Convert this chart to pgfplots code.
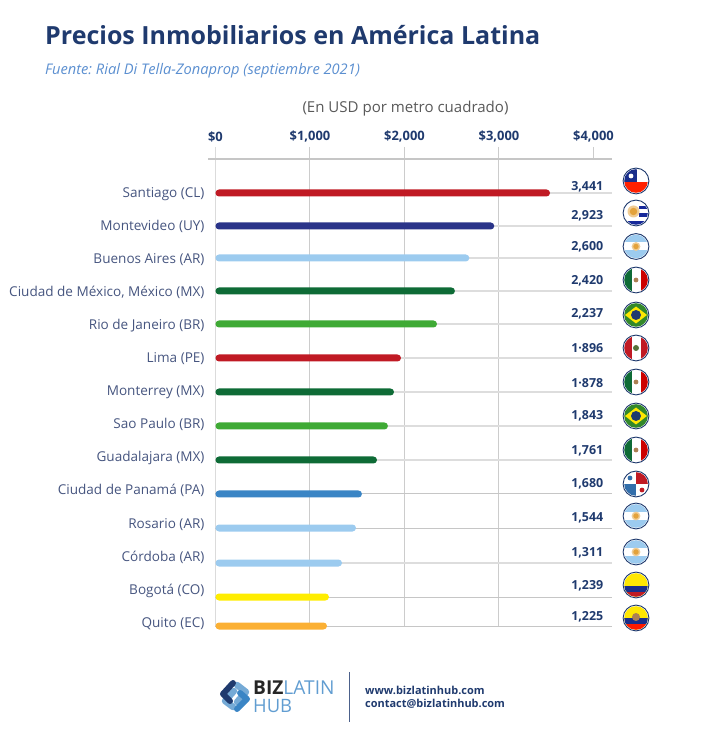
\documentclass[border=0pt]{standalone}
\usepackage{pgfplots}
\pgfplotsset{compat=1.18}
\usepackage{fontspec}
\setmainfont{Open Sans}
\definecolor{navy}{HTML}{1F3A6E}
\definecolor{city}{HTML}{46557F}
\definecolor{sub}{HTML}{5B8FD0}
\definecolor{cred}{HTML}{C01A24}
\definecolor{cnavy}{HTML}{2A3489}
\definecolor{clight}{HTML}{9CCBEF}
\definecolor{cdgreen}{HTML}{0E6B36}
\definecolor{cgreen}{HTML}{3FAA35}
\definecolor{cblue}{HTML}{3A85C5}
\definecolor{cyellow}{HTML}{FFED00}
\definecolor{corange}{HTML}{FBB034}
\definecolor{rowl}{HTML}{DDDDDD}
\definecolor{gridl}{HTML}{CCCCCC}
\definecolor{csun}{HTML}{E3A23C}
\newcommand{\flag}[3]{\begin{scope}[shift={(#1,#2)}]
 \fill[white] (0,0) circle (13);
 \begin{scope}\clip (0,0) circle (11.8); #3 \end{scope}
 \draw[navy,line width=0.9bp] (0,0) circle (12.9);
\end{scope}}
\newcommand{\sun}[4]{\fill[#3!55!white] (#1,#2) circle (#4);\fill[#3] (#1,#2) circle (#4*0.62);}
\newcommand{\bgr}[1]{\fill[#1] (-13,-13) rectangle (13,13);}
\newcommand{\ar}{\bgr{white}\fill[clight] (-13,-13) rectangle (13,-4);\fill[clight] (-13,4) rectangle (13,13);\sun{0}{0}{csun}{4.4}}
\newcommand{\mx}{\bgr{white}\fill[cdgreen] (-13,-13) rectangle (-4.5,13);\fill[red!80!black] (4.5,-13) rectangle (13,13);\fill[brown!70!gray] (0,0) circle (2.4);}
\newcommand{\br}{\bgr{cgreen!80!black}\fill[yellow!90!orange] (-11,0)--(0,-8.5)--(11,0)--(0,8.5)--cycle;\fill[navy] (0,0) circle (5);}
\begin{document}
\frenchspacing
\begin{tikzpicture}[x=1bp,y=1bp]
\path[use as bounding box] (0,0) rectangle (725,743);
\begin{axis}[
 at={(208bp,115bp)},anchor=south west,
 scale only axis,width=404bp,height=481bp,
 xmin=-79,xmax=4196,ymin=147,ymax=628,y dir=reverse,
 axis line style={draw=none},
 xtick={0,1000,2000,3000,4000},
 xticklabels={\$0,\$1{,}000,\$2{,}000,\$3{,}000,\$4{,}000},
 xticklabel pos=upper,
 tick style={draw=none},
 major tick length=0pt,
 xticklabel style={font=\bfseries\fontsize{13}{15}\selectfont,text=navy,yshift=1.5bp},
 ytick={193,226,259,292,325,358,391,424,457,490,523,556,589,622},
 yticklabels={Santiago (CL),Montevideo (UY),Buenos Aires (AR),{Ciudad de México, México (MX)},Rio de Janeiro (BR),Lima (PE),Monterrey (MX),Sao Paulo (BR),Guadalajara (MX),Ciudad de Panamá (PA),Rosario (AR),Córdoba (AR),Bogotá (CO),Quito (EC)},
 yticklabel style={font=\fontsize{13.6}{16}\selectfont,text=city,text height=10bp,text depth=3bp,xshift=0bp,yshift=-1.5bp},
 clip=false,
]
% axis rule and grid
\addplot[gridl!70!white,line width=1bp] coordinates {(0,147)(0,627)};
\addplot[gridl,line width=1bp] coordinates {(1000,147)(1000,627)};
\addplot[gridl,line width=1bp] coordinates {(2000,147)(2000,627)};
\addplot[gridl,line width=1bp] coordinates {(3000,147)(3000,627)};
\addplot[gridl,line width=1bp] coordinates {(4000,147)(4000,159)};
\addplot[gray!45,line width=1.5bp] coordinates {(-79,159)(4196,159)};
% row rules
\addplot[rowl,line width=1.6bp] coordinates {(0,193)(4196,193)};
\addplot[rowl,line width=1.6bp] coordinates {(0,226)(4196,226)};
\addplot[rowl,line width=1.6bp] coordinates {(0,258)(4196,258)};
\addplot[rowl,line width=1.6bp] coordinates {(0,291)(4196,291)};
\addplot[rowl,line width=1.6bp] coordinates {(0,324)(4196,324)};
\addplot[rowl,line width=1.6bp] coordinates {(0,358)(4196,358)};
\addplot[rowl,line width=1.6bp] coordinates {(0,392)(4196,392)};
\addplot[rowl,line width=1.6bp] coordinates {(0,426)(4196,426)};
\addplot[rowl,line width=1.6bp] coordinates {(0,460)(4196,460)};
\addplot[gray!45,line width=1bp] coordinates {(0,494)(4196,494)};
\addplot[gray!45,line width=1bp] coordinates {(0,528)(4196,528)};
\addplot[rowl,line width=1.6bp] coordinates {(0,563)(4196,563)};
\addplot[gray!45,line width=1bp] coordinates {(0,597)(4196,597)};
\addplot[gray!45,line width=1bp] coordinates {(0,626)(4196,626)};
% bars
\pgfplotsset{rb/.style={xbar,bar width=7bp,bar shift=0pt,draw=none,fill=#1,rounded corners=3.5bp,forget plot}}
\addplot[rb=cred] coordinates {(3540,193)};
\addplot[rb=cnavy] coordinates {(2950,226)};
\addplot[rb=clight] coordinates {(2686,258)};
\addplot[rb=cdgreen] coordinates {(2534,291)};
\addplot[rb=cgreen] coordinates {(2344,324)};
\addplot[rb=cred] coordinates {(1963,358)};
\addplot[rb=cdgreen] coordinates {(1889,392)};
\addplot[rb=cgreen] coordinates {(1825,426)};
\addplot[rb=cdgreen] coordinates {(1709,460)};
\addplot[rb=cblue] coordinates {(1550,494)};
\addplot[rb=clight] coordinates {(1487,528)};
\addplot[rb=clight] coordinates {(1339,563)};
\addplot[rb=cyellow] coordinates {(1201,597)};
\addplot[rb=corange] coordinates {(1180,626)};
\end{axis}
\begin{scope}[shift={(0,743)},x=1bp,y=-1bp]
\node[anchor=base west,inner sep=0,text=navy,font=\bfseries\fontsize{25.1}{28}\selectfont] at (45,45) {Precios Inmobiliarios en América Latina};
\node[anchor=base west,inner sep=0,text=sub,font=\itshape\fontsize{14.7}{16}\selectfont] at (45,74.5) {Fuente: Rial Di Tella-Zonaprop (septiembre 2021)};
\node[inner sep=0,text=black!65,font=\fontsize{15.1}{16}\selectfont] at (405.5,108.5) {(En USD por metro cuadrado)};
\foreach \v/\y in {{3,441}/187,{2,923}/216,{2,600}/247,{2,420}/281,{2,237}/314,{1·896}/348,{1·878}/383,{1,843}/416,{1,761}/451,{1,680}/484,{1,544}/518,{1,311}/553,{1,239}/586,{1,225}/617}
 {\node[anchor=east,inner sep=0,text=navy,font=\bfseries\fontsize{12.5}{14}\selectfont] at (603.5,\y) {\v};}
\flag{636}{181}{\bgr{white}\fill[red!75!orange] (-13,1) rectangle (13,13);\fill[navy!80!blue] (-13,-13) rectangle (1,1);\fill[white] (-5,-5) circle (2.4);}
\flag{636}{213}{\bgr{white}\fill[navy!70!blue] (3,-7) rectangle (13,-3.5);\fill[navy!70!blue] (3,0.5) rectangle (13,4);\fill[navy!70!blue] (-13,8) rectangle (13,13);\sun{-2.5}{-1.5}{csun}{6}}
\flag{636}{246.5}{\ar}
\flag{636}{280}{\mx}
\flag{636}{315}{\br}
\flag{636}{348}{\bgr{white}\fill[cred] (-13,-13) rectangle (-4.5,13);\fill[cred] (4.5,-13) rectangle (13,13);\fill[cdgreen!60!brown] (0,0) circle (3);}
\flag{636}{382}{\mx}
\flag{636}{416}{\br}
\flag{636}{450}{\mx}
\flag{636}{484}{\bgr{white}\fill[cred] (0,-13) rectangle (13,0);\fill[cblue!70!navy] (-13,0) rectangle (0,13);\fill[cblue!70!navy] (-6,-6) circle (2.4);\fill[cred] (6,6) circle (2.4);}
\flag{636}{516}{\ar}
\flag{636}{552}{\ar}
\flag{636}{585}{\bgr{yellow!90!orange}\fill[navy!80!blue] (-13,1) rectangle (13,7);\fill[cred] (-13,7) rectangle (13,13);}
\flag{636}{618}{\bgr{yellow!90!orange}\fill[navy!80!blue] (-13,0) rectangle (13,6);\fill[red!80!orange] (-13,6) rectangle (13,13);\fill[brown!70!gray] (0,-1) circle (4);}
% logo
\begin{scope}[shift={(235,696)}]
\draw[line width=6.5bp,color=cblue!70!white,line cap=round,line join=round] (2,-11)--(11,-4)--(2,6);
\draw[line width=6.5bp,color=cblue!70!white,line cap=round,line join=round] (-2,11)--(-10,5)--(-1,-5);
\draw[line width=6bp,color=navy,line cap=round,line join=round] (-2,-13)--(-12,-2)--(-5,5);
\draw[line width=6bp,color=cblue,line cap=round,line join=round] (2,13)--(12,3)--(5,-3);
\end{scope}
\node[anchor=base west,inner sep=0,font=\fontsize{19.2}{20}\selectfont] at (253,694.5) {\textbf{\textcolor{black!85}{BIZ}}\textcolor{cblue!80!white}{LATIN}};
\node[anchor=base west,inner sep=0,font=\fontsize{18.5}{20}\selectfont,text=cblue!80!white] at (253,712.5) {HUB};
\draw[navy!80!white,line width=1.1bp] (349.5,672)--(349.5,722);
\node[anchor=base west,inner sep=0,text=navy,font=\bfseries\fontsize{11}{13}\selectfont] at (365,694.5) {www.bizlatinhub.com};
\node[anchor=base west,inner sep=0,text=navy,font=\bfseries\fontsize{11}{13}\selectfont] at (365,708) {contact@bizlatinhub.com};
\end{scope}
\end{tikzpicture}
\end{document}
